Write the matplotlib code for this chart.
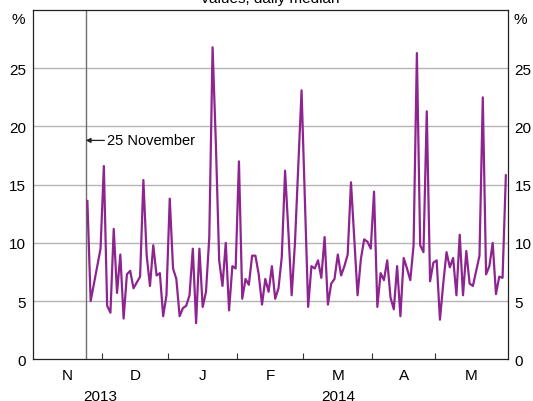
import numpy as np
import pandas as pd
import matplotlib
matplotlib.use("Agg")
import matplotlib.pyplot as plt

plt.rcParams['font.family'] = ['Liberation Sans', 'DejaVu Sans']

# Australian business days, Nov 2013 - May 2014
holidays = ['2013-12-25', '2013-12-26', '2014-01-01', '2014-01-27',
            '2014-04-18', '2014-04-21', '2014-04-25']
start_date = '2013-11-25'

# daily median values (%), one per business day from 25 November
values = [13.6, 5.0, 6.5, 8.0, 9.5, 16.6, 4.6, 4.0, 11.2, 5.7,
          9.0, 3.5, 7.3, 7.6, 6.1, 6.6, 7.1, 15.4, 8.9, 6.3,
          9.8, 7.2, 7.4, 3.7, 5.5, 13.8, 7.8, 6.9, 3.7, 4.4,
          4.6, 5.5, 9.5, 3.1, 9.5, 4.5, 5.8, 10.5, 26.8, 18.5,
          8.5, 6.3, 10.0, 4.2, 8.0, 7.8, 17.0, 5.2, 6.9, 6.4,
          8.9, 8.9, 7.3, 4.7, 6.9, 5.8, 8.0, 5.2, 6.1, 8.8,
          16.2, 11.0, 5.5, 10.0, 16.5, 23.1, 13.8, 4.5, 8.0, 7.8,
          8.5, 7.0, 10.5, 4.7, 6.5, 6.9, 9.0, 7.2, 8.0, 9.0,
          15.2, 10.3, 5.5, 8.6, 10.3, 10.1, 9.5, 14.4, 4.5, 7.4,
          6.8, 8.5, 5.3, 4.3, 8.0, 3.7, 8.7, 7.8, 6.8, 9.8,
          26.3, 9.8, 9.2, 21.3, 6.7, 8.3, 8.5, 3.4, 6.5, 9.2,
          7.9, 8.7, 5.5, 10.7, 5.5, 9.3, 6.5, 6.3, 7.6, 8.9,
          22.5, 7.3, 8.0, 10.0, 5.6, 7.1, 7.0, 15.8]

month_labels = ['N', 'D', 'J', 'F', 'M', 'A', 'M']
years = ['2013', '2014']
yticks = [0, 5, 10, 15, 20, 25]

days = pd.bdate_range('2013-11-01', '2014-05-30', freq='C', holidays=holidays)
n_days = len(days)
first = days.get_loc(pd.Timestamp(start_date))
x = np.arange(first, first + len(values)) + 0.5

# month boundaries (index of first business day in each month)
periods = days.to_period('M')
bounds = [0] + [i for i in range(1, n_days) if periods[i] != periods[i - 1]] + [n_days]
mid = [(bounds[i] + bounds[i + 1]) / 2 for i in range(len(bounds) - 1)]

fig = plt.figure(figsize=(5.33, 4.02), dpi=100)
ax = fig.add_axes([33 / 533, 1 - 360.3 / 402, 474.5 / 533, 349.3 / 402])

for v in yticks[1:]:
    ax.axhline(v, color='#b4b4b4', lw=1.0, zorder=1)
ax.axvline(first, color='#707070', lw=1.0, zorder=2)
ax.plot(x, values, color='#8e2490', lw=1.6, zorder=3)

ax.set_xlim(0, n_days)
ax.set_ylim(0, 30)
ax.set_yticks(yticks)
ax.tick_params(axis='y', length=0, labelleft=True, labelright=True,
               labelsize=11, pad=5)
ax.set_xticks(bounds[1:-1])
ax.set_xticklabels([])
ax.tick_params(axis='x', direction='in', length=4.5, width=0.8, color='#333333')
for s in ax.spines.values():
    s.set_color('#222222')
    s.set_linewidth(0.9)

for m, lab in zip(mid, month_labels):
    ax.text(m, -0.045, lab, transform=ax.get_xaxis_transform(),
            ha='center', va='center', fontsize=11)
year_split = bounds[2]
ax.text(year_split / 2, -0.105, years[0], transform=ax.get_xaxis_transform(),
        ha='center', va='center', fontsize=11)
ax.text((year_split + n_days) / 2, -0.105, years[1], transform=ax.get_xaxis_transform(),
        ha='center', va='center', fontsize=11)

ax.annotate('25 November', xy=(first, 18.8), xytext=(first + 6.5, 18.8),
            va='center', ha='left', fontsize=10.5,
            arrowprops=dict(arrowstyle='-|>', color='#222222', lw=0.9,
                            shrinkA=0, shrinkB=0, mutation_scale=7))

fig.text(18.5 / 533, 1 - 19.5 / 402, '%', ha='center', va='center', fontsize=11)
fig.text(520 / 533, 1 - 19.5 / 402, '%', ha='center', va='center', fontsize=11)
fig.text(270 / 533, 1 - 3.5 / 402, 'Values, daily median', ha='center',
         va='baseline', fontsize=11)

fig.savefig('out.png', dpi=100)
